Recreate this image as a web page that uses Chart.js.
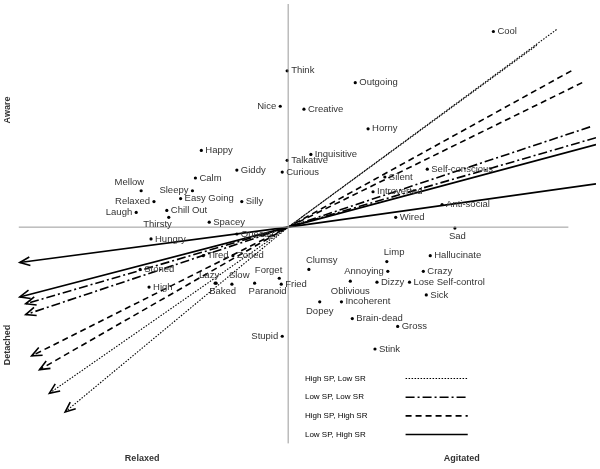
<!DOCTYPE html>
<html><head><meta charset="utf-8">
<script src="https://cdn.jsdelivr.net/npm/chart.js@4"></script>
<style>html,body{margin:0;padding:0;background:#fff}#w{width:600px;height:469px}</style>
</head><body><div id="w"><canvas id="c"></canvas></div>
<script>
// Words: x = agitated(+)/relaxed(-), y = aware(+)/detached(-)
const words = ["Cool","Think","Outgoing","Nice","Creative","Horny","Inquisitive","Happy","Talkative","Giddy","Curious","Calm","Mellow","Sleepy","Easy Going","Silly","Relaxed","Chill Out","Laugh","Thirsty","Spacey","Hungry","Queasy","Tired","Zoned","Stoned","Lazy","Slow","Forget","Baked","Paranoid","Fried","High","Clumsy","Limp","Hallucinate","Annoying","Crazy","Oblivious","Dizzy","Lose Self-control","Sick","Dopey","Incoherent","Brain-dead","Gross","Stink","Stupid","Self-conscious","Silent","Introverted","Anti-social","Wired","Sad"];
const wx = [208,-1,68,-8,16,81,23,-88,-1,-52,-6,-94,-149,-97,-109,-47,-136,-123,-154,-121,-80,-139,-52,-86,-56,-150,-73,-57,-9,-74,-34,-7,-141,21,100,144,101,137,63,90,123,140,32,54,65,111,88,-6,141,98,86,156,109,169];
const wy = [199,159,147,123,120,100,74,78,68,58,56,50,37,37,29,26,26,17,15,10,5,-12,-7,-29,-29,-43,-57,-58,-52,-57,-57,-58,-61,-43,-35,-29,-45,-45,-55,-56,-56,-69,-76,-76,-93,-101,-124,-111,59,51,36,23,10,-1];
const wpos = ["r","r","r","l","r","r","r","r","r","r","r","r","al","l","r","r","l","r","l","bl","r","r","r","r","r","r","al","ar","al","br","br","r","r","ar","ar","r","l","r","b","r","r","r","b","r","r","r","r","l","r","r","r","r","r","br"];
// Trajectory lines: [right end x, y, left end x, y]
const groups = ["High SP, Low SR","Low SP, Low SR","High SP, High SR","Low SP, High SR"];
const lineA = [[252,185,-242,-169],[306,102,-266,-78],[287,159,-260,-131],[312,44,-272,-36]];
const lineB = [[272,201,-226,-188],[312,91,-266,-89],[298,147,-252,-145],[312,84,-272,-71]];
const dashes = [[1.5,1.5],[9,3,2,3],[6,4],[]];
const widths = [1.1,1.6,1.6,1.6];

const ds=[{type:'scatter',data:wx.map((x,i)=>({x,y:wy[i]})),pointRadius:1.6,backgroundColor:'#000',borderWidth:0}];
for(let g=0;g<4;g++) for(const L of [lineA[g],lineB[g]]) ds.push({type:'line',data:[{x:L[0],y:L[1]},{x:0,y:0},{x:L[2],y:L[3]}],borderColor:'#000',borderWidth:widths[g],borderDash:dashes[g],pointRadius:0,fill:false,tension:0,arrow:true});

const deco={id:'deco',afterDatasetsDraw(ch){
 const c=ch.ctx,xs=ch.scales.x,ys=ch.scales.y,X=v=>xs.getPixelForValue(v),Y=v=>ys.getPixelForValue(v);
 c.save();
 c.strokeStyle='#999';c.lineWidth=1;
 c.beginPath();c.moveTo(X(0),Y(227));c.lineTo(X(0),Y(-220));c.moveTo(X(-273),Y(0));c.lineTo(X(284),Y(0));c.stroke();
 c.strokeStyle='#000';c.setLineDash([]);
 ch.data.datasets.forEach(d=>{if(!d.arrow)return;const p=d.data[2];const px=X(p.x),py=Y(p.y);const a=Math.atan2(py-Y(0),px-X(0));
  c.lineWidth=1.6;c.beginPath();c.moveTo(px-11*Math.cos(a-0.4),py-11*Math.sin(a-0.4));c.lineTo(px,py);c.lineTo(px-11*Math.cos(a+0.4),py-11*Math.sin(a+0.4));c.stroke();});
 c.font='9.5px "Liberation Sans"';c.fillStyle='#333';c.textBaseline='middle';
 words.forEach((w,i)=>{const px=X(wx[i]),py=Y(wy[i]);const p=wpos[i];
  if(p==='r'){c.textAlign='left';c.fillText(w,px+4,py);}
  else if(p==='l'){c.textAlign='right';c.fillText(w,px-4,py);}
  else if(p==='al'){c.textAlign='right';c.fillText(w,px+3,py-8);}
  else if(p==='ar'){c.textAlign='left';c.fillText(w,px-3,py-9);}
  else if(p==='bl'){c.textAlign='right';c.fillText(w,px+3,py+7);}
  else if(p==='br'){c.textAlign='left';c.fillText(w,px-6,py+8);}
  else {c.textAlign='center';c.fillText(w,px,py+10);}});
 c.font='bold 9px "Liberation Sans"';c.fillStyle='#333';c.textAlign='center';
 c.fillText('Relaxed',X(-148),Y(-235));c.fillText('Agitated',X(176),Y(-235));
 [['Aware',110],['Detached',345]].forEach(([t,yy])=>{c.save();c.translate(8,yy);c.rotate(-Math.PI/2);c.fillText(t,0,0);c.restore();});
 c.font='8px "Liberation Sans"';c.textAlign='left';c.fillStyle='#000';
 groups.forEach((g,i)=>{const ly=Y(-154-i*19);c.fillText(g,X(17),ly);c.setLineDash(dashes[i]);c.lineWidth=widths[i];c.beginPath();c.moveTo(X(119),ly);c.lineTo(X(182),ly);c.stroke();});
 c.restore();}};

new Chart(document.getElementById('c'),{data:{datasets:ds},plugins:[deco],
 options:{responsive:true,maintainAspectRatio:false,animation:false,layout:{padding:0},
  plugins:{legend:{display:false},tooltip:{enabled:false}},
  scales:{x:{type:'linear',min:-288,max:312,display:false},y:{type:'linear',min:-242,max:227,display:false}}}});
</script></body></html>
